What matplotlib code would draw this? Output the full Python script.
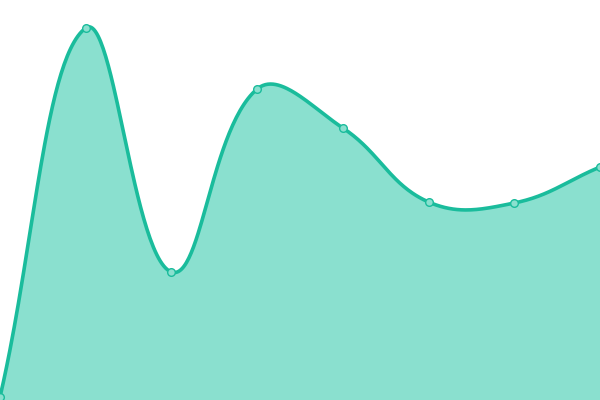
import numpy as np
import matplotlib
matplotlib.use("Agg")
import matplotlib.pyplot as plt

# values (y axis 0..400, no visible axes)
labels = ["A", "B", "C", "D", "E", "F", "G", "H"]
values = [3, 372, 128, 311, 272, 198, 197, 233]

line_color = "#1abc9c"
fill_color = "#8ae0cf"
tension = 0.4

W, H = 600, 400
x_idx = np.arange(len(values))
xmax = len(values) - 1
sx = W / xmax  # pixel per x step; y already 1 unit = 1 px

# chart.js-like spline, computed in pixel space
px = x_idx * sx
py = np.array(values, dtype=float)
n = len(px)
cp_prev = np.zeros((n, 2))
cp_next = np.zeros((n, 2))
for i in range(n):
    cur = np.array([px[i], py[i]])
    prev = np.array([px[i - 1], py[i - 1]]) if i > 0 else cur
    nxt = np.array([px[i + 1], py[i + 1]]) if i < n - 1 else cur
    d01 = np.hypot(*(cur - prev))
    d12 = np.hypot(*(nxt - cur))
    tot = d01 + d12
    s01 = d01 / tot if tot else 0
    s12 = d12 / tot if tot else 0
    cp_prev[i] = cur - tension * s01 * (nxt - prev)
    cp_next[i] = cur + tension * s12 * (nxt - prev)
cp_prev[:, 1] = np.clip(cp_prev[:, 1], 0, H)
cp_next[:, 1] = np.clip(cp_next[:, 1], 0, H)

t = np.linspace(0, 1, 60)[:, None]
curve = []
for i in range(n - 1):
    p0 = np.array([px[i], py[i]])
    p3 = np.array([px[i + 1], py[i + 1]])
    p1, p2 = cp_next[i], cp_prev[i + 1]
    seg = ((1 - t) ** 3) * p0 + 3 * ((1 - t) ** 2) * t * p1 + 3 * (1 - t) * t ** 2 * p2 + t ** 3 * p3
    curve.append(seg if i == 0 else seg[1:])
curve = np.vstack(curve)
cx = curve[:, 0] / sx
cy = curve[:, 1]

fig = plt.figure(figsize=(6, 4), dpi=100)
ax = fig.add_axes([0, 0, 1, 1])
ax.fill_between(cx, cy, 0, color=fill_color, linewidth=0)
ax.plot(cx, cy, color=line_color, linewidth=2.6, solid_capstyle="round")
ax.plot(x_idx, values, "o", markersize=5.5, markerfacecolor=fill_color,
        markeredgecolor=line_color, markeredgewidth=1.0)
ax.set_xlim(0, xmax)
ax.set_ylim(0, H)
ax.axis("off")

fig.savefig("out.png", dpi=100)
